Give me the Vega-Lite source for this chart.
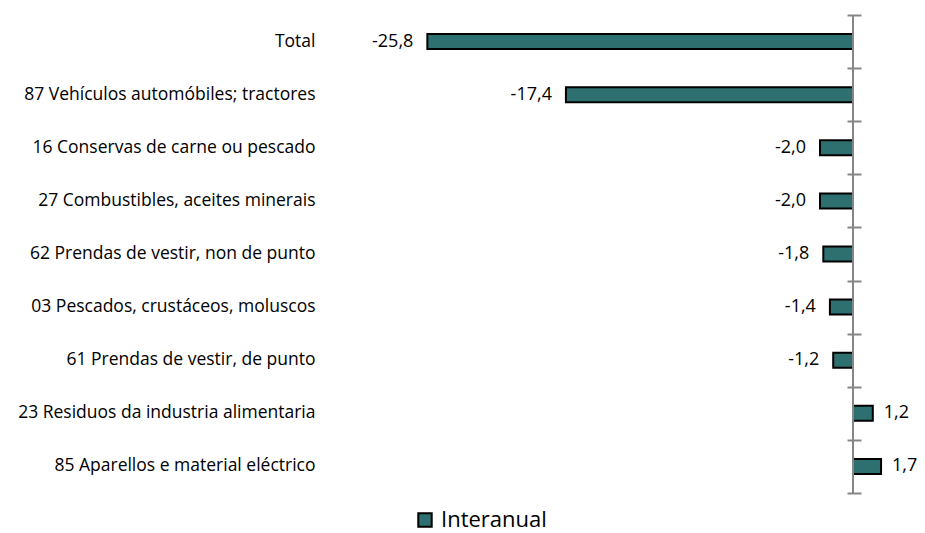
{
  "$schema": "https://vega.github.io/schema/vega-lite/v6.json",
  "width": 589,
  "height": 478,
  "autosize": "none",
  "padding": {"left": 330, "top": 15, "right": 6, "bottom": 40},
  "config": {
    "view": {"stroke": null},
    "font": "Open Sans",
    "locale": {"number": {"decimal": ",", "thousands": ".", "grouping": [3], "currency": ["", " €"], "minus": "-"}}
  },
  "data": {
    "values": [
      {"category": "Total", "value": -25.8},
      {"category": "87 Vehículos automóbiles; tractores", "value": -17.4},
      {"category": "16 Conservas de carne ou pescado", "value": -2.0},
      {"category": "27 Combustibles, aceites minerais", "value": -2.0},
      {"category": "62 Prendas de vestir, non de punto", "value": -1.8},
      {"category": "03 Pescados, crustáceos, moluscos", "value": -1.4},
      {"category": "61 Prendas de vestir, de punto", "value": -1.2},
      {"category": "23 Residuos da industria alimentaria", "value": 1.2},
      {"category": "85 Aparellos e material eléctrico", "value": 1.7}
    ]
  },
  "resolve": {"axis": {"y": "independent"}},
  "layer": [
    {
      "mark": {"type": "bar", "size": 15, "stroke": "#000000", "strokeWidth": 2},
      "encoding": {
        "y": {
          "field": "category", "type": "nominal", "sort": null,
          "scale": {"paddingInner": 0, "paddingOuter": 0},
          "axis": {"title": null, "ticks": false, "domain": false, "labelPadding": 15, "labelFontSize": 17.5, "labelColor": "#000000", "labelFont": "Open Sans", "labelLimit": 400}
        },
        "x": {"field": "value", "type": "quantitative", "scale": {"domain": [-31.7, 4], "nice": false, "zero": false}, "axis": null},
        "color": {
          "datum": "Interanual",
          "scale": {"range": ["#2E6F6F"]},
          "legend": {
            "title": null, "orient": "none", "legendX": 84, "legendY": 494,
            "symbolType": "square", "symbolSize": 180, "symbolStrokeColor": "#000000", "symbolStrokeWidth": 2,
            "labelFontSize": 22, "labelColor": "#000000", "labelFont": "Open Sans", "labelOffset": 5
          }
        }
      }
    },
    {
      "transform": [{"filter": "datum.value < 0"}],
      "mark": {"type": "text", "align": "right", "baseline": "middle", "dx": -14, "fontSize": 18, "color": "#000000"},
      "encoding": {
        "y": {"field": "category", "type": "nominal", "sort": null, "axis": null},
        "x": {"field": "value", "type": "quantitative"},
        "text": {"field": "value", "type": "quantitative", "format": ".1f"}
      }
    },
    {
      "transform": [{"filter": "datum.value > 0"}],
      "mark": {"type": "text", "align": "left", "baseline": "middle", "dx": 11, "fontSize": 18, "color": "#000000"},
      "encoding": {
        "y": {"field": "category", "type": "nominal", "sort": null, "axis": null},
        "x": {"field": "value", "type": "quantitative"},
        "text": {"field": "value", "type": "quantitative", "format": ".1f"}
      }
    },
    {
      "mark": {"type": "rule", "color": "#868686", "strokeWidth": 2},
      "encoding": {"x": {"datum": 0, "type": "quantitative"}}
    },
    {
      "mark": {"type": "point", "opacity": 0},
      "encoding": {
        "x": {"datum": 0, "type": "quantitative"},
        "y": {
          "field": "category", "type": "nominal", "sort": null,
          "axis": {"orient": "right", "offset": -72, "labels": false, "domain": false, "title": null, "tickBand": "extent", "tickSize": 14, "tickColor": "#868686", "tickWidth": 2}
        }
      }
    }
  ]
}
